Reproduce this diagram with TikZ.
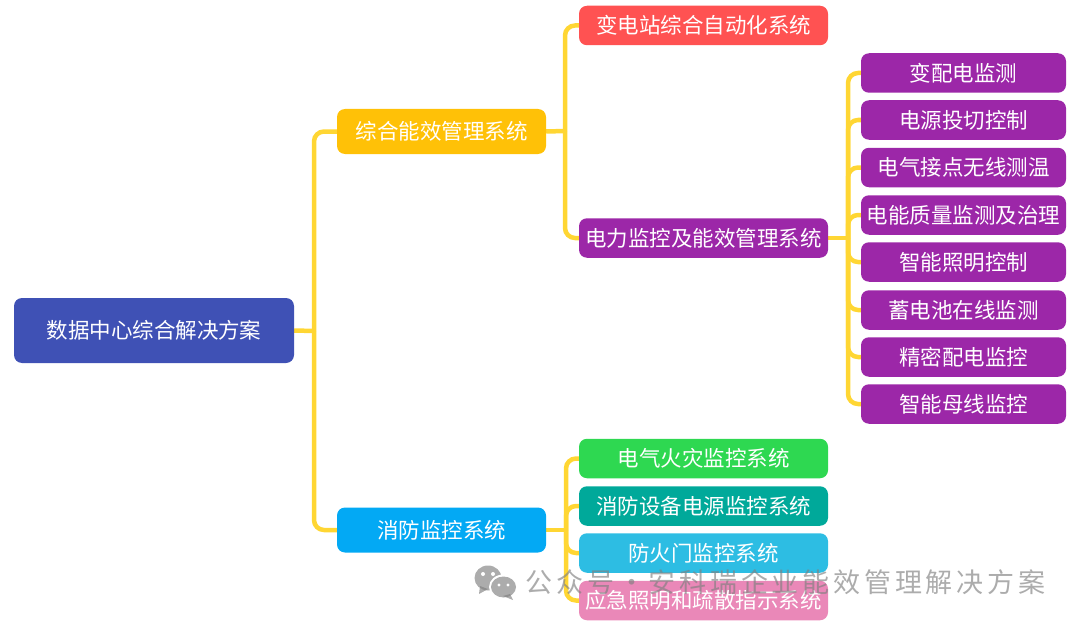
\documentclass[tikz,border=0pt]{standalone}
\usetikzlibrary{backgrounds}
\usepackage{fontspec}
\setmainfont{Noto Sans CJK SC}
\newfontfamily\markfont[LetterSpace=14]{Noto Sans CJK SC}
\definecolor{linkcol}{HTML}{FFD633}
\definecolor{rootcol}{HTML}{3F51B5}
\definecolor{ambercol}{HTML}{FFC107}
\definecolor{skycol}{HTML}{03A9F4}
\definecolor{redcol}{HTML}{FF5252}
\definecolor{purplecol}{HTML}{9C27A8}
\definecolor{greencol}{HTML}{2ED851}
\definecolor{tealcol}{HTML}{00A99A}
\definecolor{cyancol}{HTML}{2DBDE3}
\definecolor{pinkcol}{HTML}{EA88B8}
\definecolor{markcol}{HTML}{808080}
\tikzset{
  box/.style={rounded corners=8pt, inner sep=0pt, text=white,
    font=\fontsize{21.5}{24}\selectfont},
  first/.style={box, minimum width=209pt, minimum height=45pt},
  second/.style={box, minimum width=249pt, minimum height=39.5pt},
  third/.style={box, fill=purplecol, minimum width=205pt, minimum height=39.5pt},
  link/.style={draw=linkcol, line width=4.5pt},
  bentlink/.style={link, rounded corners=10pt},
}
\begin{document}
\begin{tikzpicture}[x=1pt, y=-1pt]
\useasboundingbox (0,0) rectangle (1080,626);

\coordinate (tr0) at (314,331);
\coordinate (tr1) at (565,131);
\coordinate (tr2) at (848,238);
\coordinate (tr3) at (566,530);

\node[box, fill=rootcol, minimum width=280pt, minimum height=65pt] (root) at (154,330.5) {数据中心综合解决方案};
\node[first, fill=ambercol] (energy) at (441.5,131.5) {综合能效管理系统};
\node[first, fill=skycol] (fire) at (441.5,530) {消防监控系统};

\node[second, fill=redcol] (station) at (703.5,25.5) {变电站综合自动化系统};
\node[second, fill=purplecol] (power) at (703.5,238) {电力监控及能效管理系统};

\node[second, fill=greencol] (alarm) at (703.5,458.5) {电气火灾监控系统};
\node[second, fill=tealcol] (supply) at (703.5,506) {消防设备电源监控系统};
\node[second, fill=cyancol] (door) at (703.5,553) {防火门监控系统};
\node[second, fill=pinkcol] (exit) at (703.5,600.5) {应急照明和疏散指示系统};

\node[third] (p1) at (963.5,73) {变配电监测};
\node[third] (p2) at (963.5,120) {电源投切控制};
\node[third] (p3) at (963.5,167.5) {电气接点无线测温};
\node[third] (p4) at (963.5,215) {电能质量监测及治理};
\node[third] (p5) at (963.5,262) {智能照明控制};
\node[third] (p6) at (963.5,310) {蓄电池在线监测};
\node[third] (p7) at (963.5,357) {精密配电监控};
\node[third] (p8) at (963.5,404) {智能母线监控};

\begin{pgfonlayer}{background}
\draw[link] (root.east) -- (tr0);
\draw[link] (energy.east) -- (tr1);
\draw[link] (power.east) -- (tr2);
\draw[link] (fire.east) -- (tr3);
\foreach \n in {energy,fire}
  \draw[bentlink] (tr0) |- (\n.west);
\foreach \n in {station,power}
  \draw[bentlink] (tr1) |- (\n.west);
\foreach \n in {p1,p2,p3,p4,p5,p6,p7,p8}
  \draw[bentlink] (tr2) |- (\n.west);
\foreach \n in {alarm,supply,door,exit}
  \draw[bentlink] (tr3) |- (\n.west);
\end{pgfonlayer}

% watermark
\fill[markcol, opacity=.65] (488,578) ellipse (13.5 and 12.5);
\fill[markcol, opacity=.65] (480,586) -- (479,594) -- (488,589) -- cycle;
\fill[white] (503.5,587) ellipse (14.5 and 12.5);
\fill[markcol, opacity=.65] (503.5,587) ellipse (12.5 and 10.5);
\fill[markcol, opacity=.65] (510,594) -- (513,600) -- (503,596) -- cycle;
\foreach \x/\y in {483/574,493/574} \fill[white] (\x,\y) circle (2);
\foreach \x/\y in {499/585,508/585} \fill[white] (\x,\y) circle (1.7);
\node[text=markcol, text opacity=.65, inner sep=0pt, anchor=west,
  font=\markfont\fontsize{27}{30}\selectfont] (wm) at (525.5,582) {公众号・安科瑞企业能效管理解决方案};

\end{tikzpicture}
\end{document}
